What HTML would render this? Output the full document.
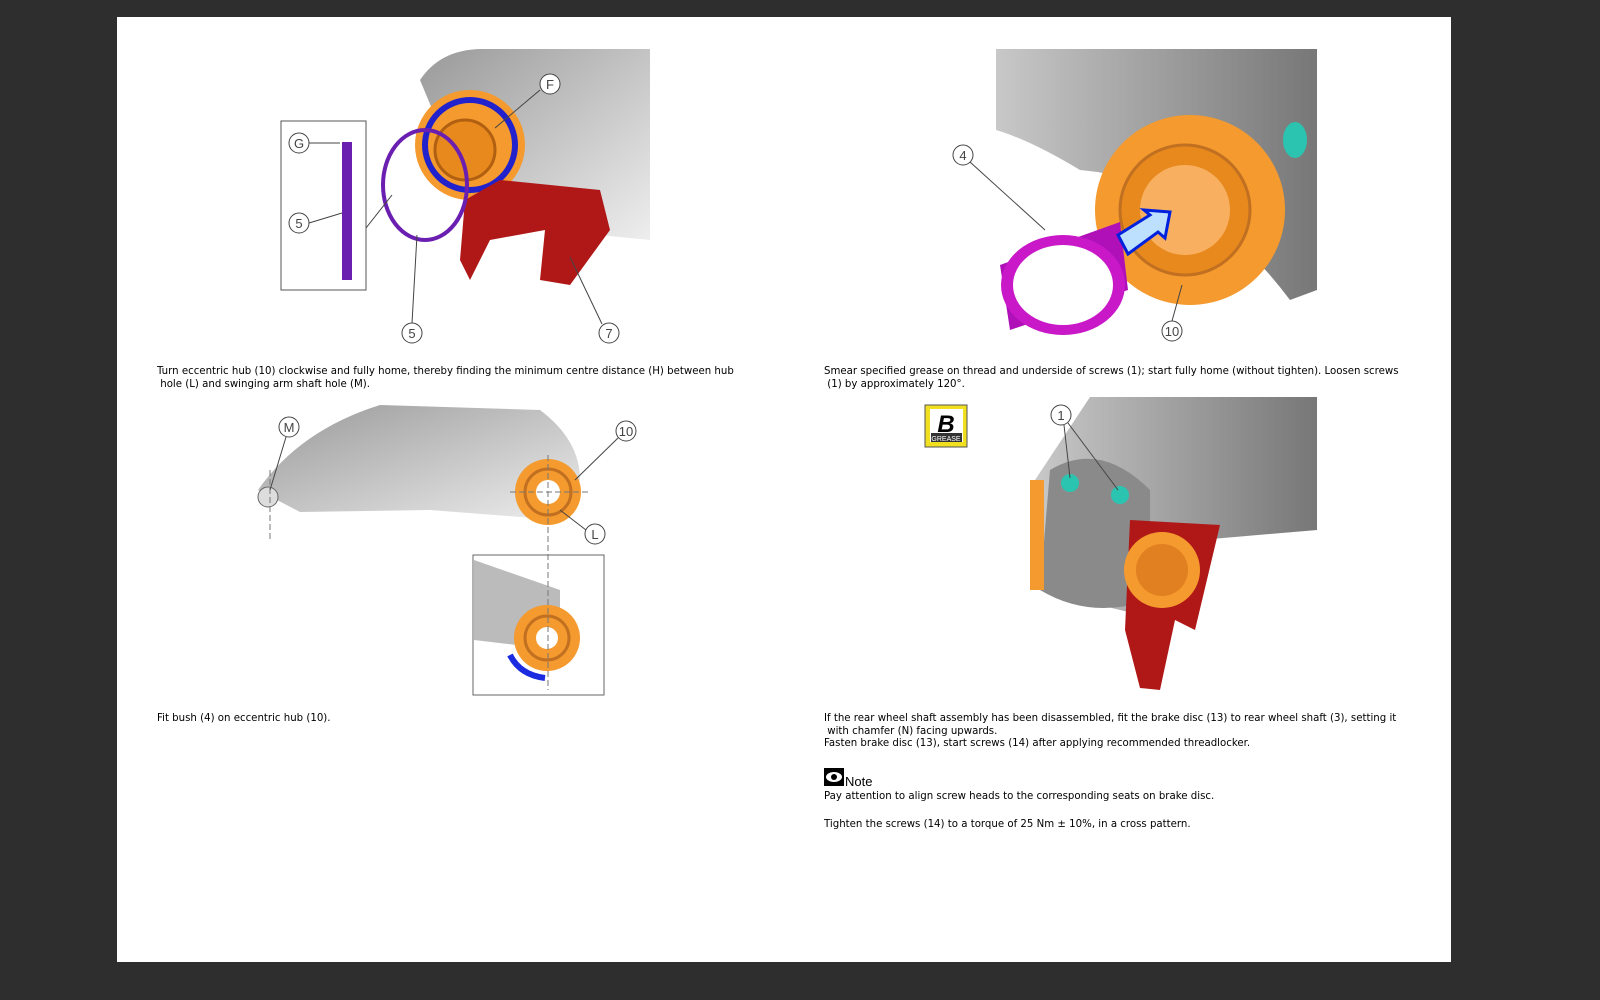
<!DOCTYPE html>
<html><head><meta charset="utf-8"><style>
html,body{margin:0;padding:0;}
body{width:1600px;height:1000px;background:#2e2e2e;position:relative;overflow:hidden;font-family:"DejaVu Sans","Liberation Sans",sans-serif;}
.page{position:absolute;left:117px;top:17px;width:1334px;height:945px;background:#fff;}
.t{position:absolute;font-size:10.2px;color:#000;line-height:12.5px;white-space:nowrap;}
svg{position:absolute;left:0;top:0;}
</style></head><body>
<div class="page"></div>
<svg width="1600" height="1000" viewBox="0 0 1600 1000">
<defs>
<linearGradient id="g1" x1="0" y1="0" x2="1" y2="1"><stop offset="0" stop-color="#999"/><stop offset="1" stop-color="#eee"/></linearGradient>
<linearGradient id="g2" x1="0" y1="0" x2="1" y2="0"><stop offset="0" stop-color="#c8c8c8"/><stop offset="1" stop-color="#777"/></linearGradient>
</defs>
<path d="M420,80 Q440,50 480,49 L650,49 L650,240 L600,235 Q520,230 470,200 Z" fill="url(#g1)"/>
<circle cx="470" cy="145" r="55" fill="#f59a2e"/>
<circle cx="470" cy="145" r="45" fill="none" stroke="#2222cc" stroke-width="6"/>
<circle cx="465" cy="150" r="30" fill="#e8891e" stroke="#b06010" stroke-width="3"/>
<path d="M500,180 L600,190 L610,230 L570,285 L540,280 L545,230 L490,240 L470,280 L460,260 L465,200 Z" fill="#b01818"/>
<ellipse cx="425" cy="185" rx="42" ry="55" fill="none" stroke="#6a1fb0" stroke-width="4"/>
<rect x="281" y="121" width="85" height="169" fill="#fff" stroke="#555"/>
<rect x="342" y="142" width="10" height="138" fill="#6a1fb0"/>
<g fill="#fff" stroke="#444" stroke-width="1"><circle cx="550" cy="84" r="10"/><circle cx="299" cy="143" r="10"/><circle cx="299" cy="223" r="10"/><circle cx="412" cy="333" r="10"/><circle cx="609" cy="333" r="10"/></g>
<g stroke="#444" fill="none"><line x1="540" y1="90" x2="495" y2="128"/><line x1="309" y1="143" x2="340" y2="143"/><line x1="309" y1="223" x2="342" y2="213"/><line x1="412" y1="323" x2="417" y2="235"/><line x1="602" y1="324" x2="570" y2="257"/><line x1="366" y1="228" x2="392" y2="195"/></g>
<g font-family="Liberation Sans,sans-serif" font-size="13" fill="#444" text-anchor="middle"><text x="550" y="89">F</text><text x="299" y="148">G</text><text x="299" y="228">5</text><text x="412" y="338">5</text><text x="609" y="338">7</text></g>
<path d="M996,49 L1317,49 L1317,290 L1290,300 Q1200,180 1080,170 Q1030,140 996,130 Z" fill="url(#g2)"/>
<circle cx="1190" cy="210" r="95" fill="#f59a2e"/>
<circle cx="1185" cy="210" r="65" fill="#e8891e" stroke="#c07020" stroke-width="3"/>
<circle cx="1185" cy="210" r="45" fill="#f8b060"/>
<ellipse cx="1295" cy="140" rx="12" ry="18" fill="#2bc4b0"/>
<path d="M1000,265 L1120,222 L1128,290 L1010,330 Z" fill="#b010b8"/>
<ellipse cx="1063" cy="285" rx="62" ry="50" fill="#c818c8"/>
<ellipse cx="1063" cy="285" rx="50" ry="40" fill="#fff"/>
<path d="M1118,235 L1150,215 L1144,210 L1170,212 L1165,238 L1158,232 L1128,254 Z" fill="#bde0ff" stroke="#0022dd" stroke-width="3"/>
<g fill="#fff" stroke="#444"><circle cx="963" cy="155" r="10"/><circle cx="1172" cy="331" r="10"/></g>
<g stroke="#444"><line x1="970" y1="162" x2="1045" y2="230"/><line x1="1172" y1="321" x2="1182" y2="285"/></g>
<g font-family="Liberation Sans,sans-serif" font-size="13" fill="#444" text-anchor="middle"><text x="963" y="160">4</text><text x="1172" y="336">10</text></g>
<path d="M258,490 Q300,430 380,405 L540,410 Q580,440 580,480 L560,520 L430,510 L300,512 Z" fill="url(#g1)"/>
<circle cx="268" cy="497" r="10" fill="#ddd" stroke="#666"/>
<circle cx="548" cy="492" r="33" fill="#f59a2e"/><circle cx="548" cy="492" r="23" fill="none" stroke="#c07020" stroke-width="3"/><circle cx="548" cy="492" r="12" fill="#fff"/>
<rect x="473" y="555" width="131" height="140" fill="#fff" stroke="#666"/>
<path d="M474,560 L560,590 L560,650 L474,640 Z" fill="#bbb"/>
<circle cx="547" cy="638" r="33" fill="#f59a2e"/><circle cx="547" cy="638" r="22" fill="none" stroke="#c07020" stroke-width="3"/><circle cx="547" cy="638" r="11" fill="#fff"/>
<path d="M510,655 Q520,675 545,678" fill="none" stroke="#1a2be0" stroke-width="6"/>
<g stroke="#777" stroke-dasharray="6,3" fill="none"><line x1="548" y1="455" x2="548" y2="690"/><line x1="270" y1="470" x2="270" y2="540"/><line x1="510" y1="492" x2="590" y2="492"/></g>
<g fill="#fff" stroke="#444"><circle cx="289" cy="427" r="10"/><circle cx="626" cy="431" r="10"/><circle cx="595" cy="534" r="10"/></g>
<g stroke="#444"><line x1="286" y1="437" x2="270" y2="490"/><line x1="618" y1="438" x2="575" y2="480"/><line x1="586" y1="530" x2="560" y2="510"/></g>
<g font-family="Liberation Sans,sans-serif" font-size="13" fill="#444" text-anchor="middle"><text x="289" y="432">M</text><text x="626" y="436">10</text><text x="595" y="539">L</text></g>
<path d="M1090,397 L1317,397 L1317,530 L1200,540 L1160,620 L1040,590 L1035,480 Z" fill="url(#g2)"/>
<path d="M1050,470 Q1100,440 1150,490 L1150,600 Q1090,620 1040,590 Z" fill="#8a8a8a"/>
<rect x="1030" y="480" width="14" height="110" fill="#f59a2e"/>
<path d="M1130,520 L1220,525 L1195,630 L1175,620 L1160,690 L1140,688 L1125,630 Z" fill="#b01818"/>
<circle cx="1162" cy="570" r="38" fill="#f59a2e"/><circle cx="1162" cy="570" r="26" fill="#e08020"/>
<circle cx="1070" cy="483" r="9" fill="#2bc4b0"/><circle cx="1120" cy="495" r="9" fill="#2bc4b0"/>
<circle cx="1061" cy="415" r="10" fill="#fff" stroke="#444"/>
<g stroke="#444"><line x1="1064" y1="425" x2="1070" y2="478"/><line x1="1068" y1="423" x2="1118" y2="490"/></g>
<text x="1061" y="420" font-family="Liberation Sans,sans-serif" font-size="13" fill="#444" text-anchor="middle">1</text>
<rect x="925" y="405" width="42" height="42" fill="#f0e020" stroke="#555"/>
<rect x="930" y="409" width="33" height="33" fill="#fff"/>
<text x="946" y="432" font-family="Liberation Sans,sans-serif" font-weight="bold" font-style="italic" font-size="24" text-anchor="middle">B</text>
<rect x="931" y="433" width="31" height="9" fill="#333"/><text x="946" y="441" font-size="7" fill="#fff" text-anchor="middle" font-family="Liberation Sans,sans-serif">GREASE</text>
<rect x="824" y="768" width="20" height="18" fill="#000"/>
<ellipse cx="834" cy="777" rx="8" ry="5" fill="#fff"/><circle cx="834" cy="777" r="3" fill="#000"/>
</svg>
<div class="t" style="left:157px;top:366px">Turn eccentric hub (10) clockwise and fully home, thereby finding the minimum centre distance (H) between hub<br>&nbsp;hole (L) and swinging arm shaft hole (M).</div>
<div class="t" style="left:824px;top:366px">Smear specified grease on thread and underside of screws (1); start fully home (without tighten). Loosen screws<br>&nbsp;(1) by approximately 120°.</div>
<div class="t" style="left:157px;top:713px">Fit bush (4) on eccentric hub (10).</div>
<div class="t" style="left:824px;top:713px">If the rear wheel shaft assembly has been disassembled, fit the brake disc (13) to rear wheel shaft (3), setting it<br>&nbsp;with chamfer (N) facing upwards.<br>Fasten brake disc (13), start screws (14) after applying recommended threadlocker.</div>
<div class="t" style="left:845px;top:776px;font-family:'Liberation Sans',sans-serif;font-size:13px">Note</div>
<div class="t" style="left:824px;top:791px">Pay attention to align screw heads to the corresponding seats on brake disc.</div>
<div class="t" style="left:824px;top:819px">Tighten the screws (14) to a torque of 25 Nm ± 10%, in a cross pattern.</div>
</body></html>
